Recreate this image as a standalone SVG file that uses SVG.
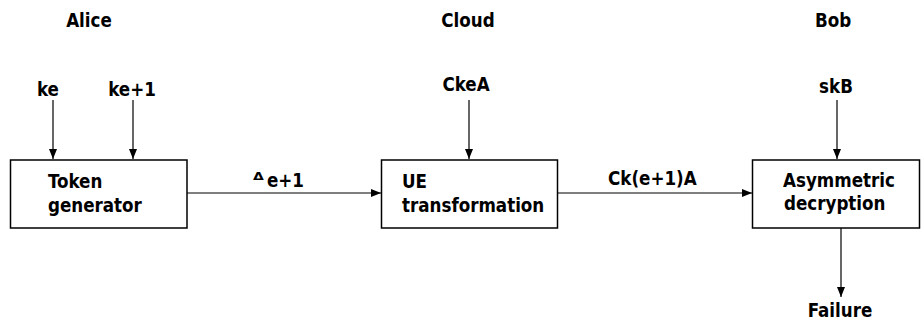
<svg xmlns="http://www.w3.org/2000/svg" width="921" height="320" viewBox="0 0 921 320">
  <style>
    text { font-family: "DejaVu Sans Condensed", "DejaVu Sans", Verdana, sans-serif; font-weight: bold; font-size: 18.6px; fill: #000; }
    .box { fill: #fff; stroke: #000; stroke-width: 1.5; }
    .edge { stroke: #000; stroke-width: 1.2; fill: none; marker-end: url(#arrow); }
    .c { text-anchor: middle; }
    .sym { font-family: "DejaVu Sans", sans-serif; font-size: 14px; }
  </style>
  <defs>
    <marker id="arrow" viewBox="0 0 10 8" refX="10" refY="4" markerWidth="10" markerHeight="8" markerUnits="userSpaceOnUse" orient="auto">
      <path d="M0,0 L10,4 L0,8 Z" fill="#000"/>
    </marker>
  </defs>

  <!-- party headings -->
  <text class="c" x="89" y="27">Alice</text>
  <text class="c" x="468" y="27">Cloud</text>
  <text class="c" x="833" y="27">Bob</text>

  <!-- key inputs -->
  <text class="c" x="48" y="96">ke</text>
  <text class="c" x="132" y="96">ke+1</text>
  <text class="c" x="466" y="91">CkeA</text>
  <text class="c" x="836" y="93">skB</text>

  <g id="token-generator">
    <rect class="box" x="10.5" y="160" width="176.5" height="68"/>
    <text x="48" y="188">Token</text>
    <text x="48" y="212">generator</text>
  </g>

  <g id="ue-transformation">
    <rect class="box" x="381.5" y="160" width="176" height="68"/>
    <text x="402" y="188">UE</text>
    <text x="402" y="212">transformation</text>
  </g>

  <g id="asymmetric-decryption">
    <rect class="box" x="752.5" y="160" width="167" height="68"/>
    <text x="783" y="187">Asymmetric</text>
    <text x="784" y="210">decryption</text>
  </g>

  <g id="failure">
    <text class="c" x="840" y="317">Failure</text>
  </g>

  <g id="connectors">
    <line class="edge" x1="53" y1="100" x2="53" y2="159"/>
    <line class="edge" x1="133" y1="100" x2="133" y2="159"/>
    <line class="edge" x1="469" y1="100" x2="469" y2="159"/>
    <line class="edge" x1="837" y1="100" x2="837" y2="159"/>
    <line class="edge" x1="187" y1="193" x2="381" y2="193"/>
    <line class="edge" x1="557.5" y1="193" x2="752" y2="193"/>
    <line class="edge" x1="841" y1="228" x2="841" y2="297"/>
    <!-- edge labels -->
    <text class="sym" transform="translate(253,179.5) scale(1,0.7)">Δ</text>
    <text x="267" y="187">e+1</text>
    <text x="608" y="185">Ck(e+1)A</text>
  </g>
</svg>
